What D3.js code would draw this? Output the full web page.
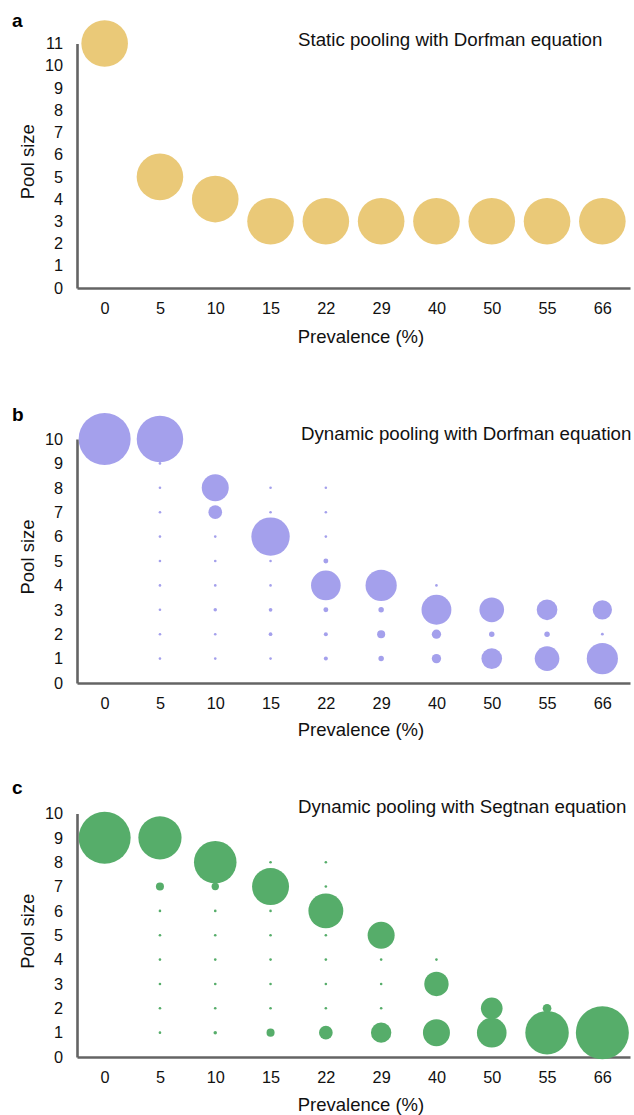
<!DOCTYPE html>
<html lang="en">
<head>
<meta charset="UTF-8">
<title>Pool size by prevalence</title>
<style>
  html, body { margin: 0; padding: 0; background: #fff; }
  svg { display: block; font-family: "Liberation Sans", Arial, sans-serif; }
</style>
</head>
<body>
<div id="chart"></div>
<script src="https://cdn.jsdelivr.net/npm/d3@7"></script>
<script>
// categories on the x axis
const prevalence = ["0", "5", "10", "15", "22", "29", "40", "50", "55", "66"];

// a: one pool size per prevalence, all the same bubble size
const staticPool = [11, 5, 4, 3, 3, 3, 3, 3, 3, 3];
const staticShare = [100, 100, 100, 100, 100, 100, 100, 100, 100, 100];

// b, c: bubble size for pool sizes 1..10 at each prevalence (0 = no bubble)
const dorfmanShares = [
  [0, 0, 0, 0, 0, 0, 0, 0, 0, 100],
  [0.25, 0.25, 0.25, 0.25, 0.25, 0.25, 0.25, 0.25, 0.25, 80],
  [0.25, 0.25, 0.45, 0.25, 0.25, 0.25, 6.9, 27, 0, 0],
  [0.25, 0.5, 0.5, 0.25, 0.25, 54.5, 0.25, 0.25, 0, 0],
  [0.6, 0.6, 0.9, 32.5, 0.9, 0.25, 0.25, 0.25, 0, 0],
  [1.1, 2.4, 1.1, 36, 0, 0, 0, 0, 0, 0],
  [3.2, 3.2, 33, 0.25, 0, 0, 0, 0, 0, 0],
  [15.8, 1.1, 22.5, 0, 0, 0, 0, 0, 0, 0],
  [22.5, 1.1, 15.8, 0, 0, 0, 0, 0, 0, 0],
  [36, 0.3, 13.8, 0, 0, 0, 0, 0, 0, 0]
];
const segtnanShares = [
  [0, 0, 0, 0, 0, 0, 0, 0, 100, 0],
  [0.25, 0.25, 0.25, 0.25, 0.25, 0.25, 2.4, 0, 69, 0],
  [0.45, 0.25, 0.25, 0.25, 0.25, 0.25, 2, 67, 0, 0],
  [2.4, 0.25, 0.25, 0.25, 0.25, 0.25, 50.6, 0.25, 0, 0],
  [6.9, 0.25, 0.25, 0.25, 0.25, 45, 0.25, 0.25, 0, 0],
  [15.3, 0.25, 0.25, 0.25, 27, 0, 0, 0, 0, 0],
  [27, 0, 22, 0.25, 0, 0, 0, 0, 0, 0],
  [32.5, 17.4, 0, 0, 0, 0, 0, 0, 0, 0],
  [70, 2.8, 0, 0, 0, 0, 0, 0, 0, 0],
  [104, 0, 0, 0, 0, 0, 0, 0, 0, 0]
];

const panelLetters = ["a", "b", "c"];
const panelTitles = [
  "Static pooling with Dorfman equation",
  "Dynamic pooling with Dorfman equation",
  "Dynamic pooling with Segtnan equation"
];
const yMaxes = [11, 10, 10];

const width = 634, height = 1115;

const svg = d3.select("#chart")
  .append("svg")
  .attr("width", width)
  .attr("height", height);

// turn the tables into bubbles
function fromStatic() {
  return prevalence.map((p, i) => ({ prev: p, pool: staticPool[i], share: staticShare[i] }));
}
function fromTable(table) {
  const out = [];
  table.forEach((row, i) => {
    row.forEach((v, j) => {
      if (v > 0) out.push({ prev: prevalence[i], pool: j + 1, share: v });
    });
  });
  return out.sort((a, b) => b.share - a.share);
}

const panels = [
  { data: fromStatic(), top: 43.5, bottom: 288, rMax: 23.3, color: "#EAC978",
    letterY: 20, titleX: 298, titleY: 39, xlabelY: 337 },
  { data: fromTable(dorfmanShares), top: 439, bottom: 683, rMax: 26, color: "#A4A0EC",
    letterY: 414, titleX: 301, titleY: 433, xlabelY: 730 },
  { data: fromTable(segtnanShares), top: 813.5, bottom: 1057, rMax: 26, color: "#56AD6A",
    letterY: 787, titleX: 298, titleY: 806, xlabelY: 1105 }
];

const x = d3.scalePoint()
  .domain(prevalence)
  .range([77, 630])
  .padding(0.5);

panels.forEach((p, k) => {
  const g = svg.append("g");

  const y = d3.scaleLinear()
    .domain([0, yMaxes[k]])
    .range([p.bottom, p.top]);

  const r = d3.scaleSqrt()
    .domain([0, 100])
    .range([0, p.rMax]);

  // AXES
  const yAxis = g.append("g")
    .attr("transform", "translate(77,0)")
    .call(d3.axisLeft(y).ticks(yMaxes[k]).tickSize(0).tickPadding(14));

  const xAxis = g.append("g")
    .attr("transform", `translate(0,${p.bottom})`)
    .call(d3.axisBottom(x).tickSize(0).tickPadding(14));

  [xAxis, yAxis].forEach(a => {
    a.select(".domain").attr("stroke", "#646464").attr("stroke-width", 2.6);
    a.selectAll("text").attr("font-size", 16.3).attr("fill", "#111")
      .attr("font-family", "Liberation Sans, Arial, sans-serif");
  });
  xAxis.selectAll("text").attr("dy", "0.35em").attr("y", 20);

  // BUBBLES
  g.selectAll("circle")
    .data(p.data)
    .enter()
    .append("circle")
    .attr("cx", d => x(d.prev))
    .attr("cy", d => y(d.pool))
    .attr("r", d => r(d.share))
    .attr("fill", p.color);

  // LABELS
  g.append("text")
    .attr("x", 12)
    .attr("y", p.letterY)
    .attr("dy", "0.35em")
    .attr("font-size", 19)
    .attr("font-weight", "bold")
    .text(panelLetters[k]);

  g.append("text")
    .attr("x", p.titleX)
    .attr("y", p.titleY)
    .attr("dy", "0.35em")
    .attr("font-size", 18.7)
    .attr("fill", "#111")
    .text(panelTitles[k]);

  g.append("text")
    .attr("x", 361)
    .attr("y", p.xlabelY)
    .attr("dy", "0.35em")
    .attr("text-anchor", "middle")
    .attr("font-size", 18.5)
    .attr("fill", "#111")
    .text("Prevalence (%)");

  g.append("text")
    .attr("transform", `translate(28,${(p.top + p.bottom) / 2 - 4}) rotate(-90)`)
    .attr("dy", "0.35em")
    .attr("text-anchor", "middle")
    .attr("font-size", 18.5)
    .attr("fill", "#111")
    .text("Pool size");
});
</script>
</body>
</html>
